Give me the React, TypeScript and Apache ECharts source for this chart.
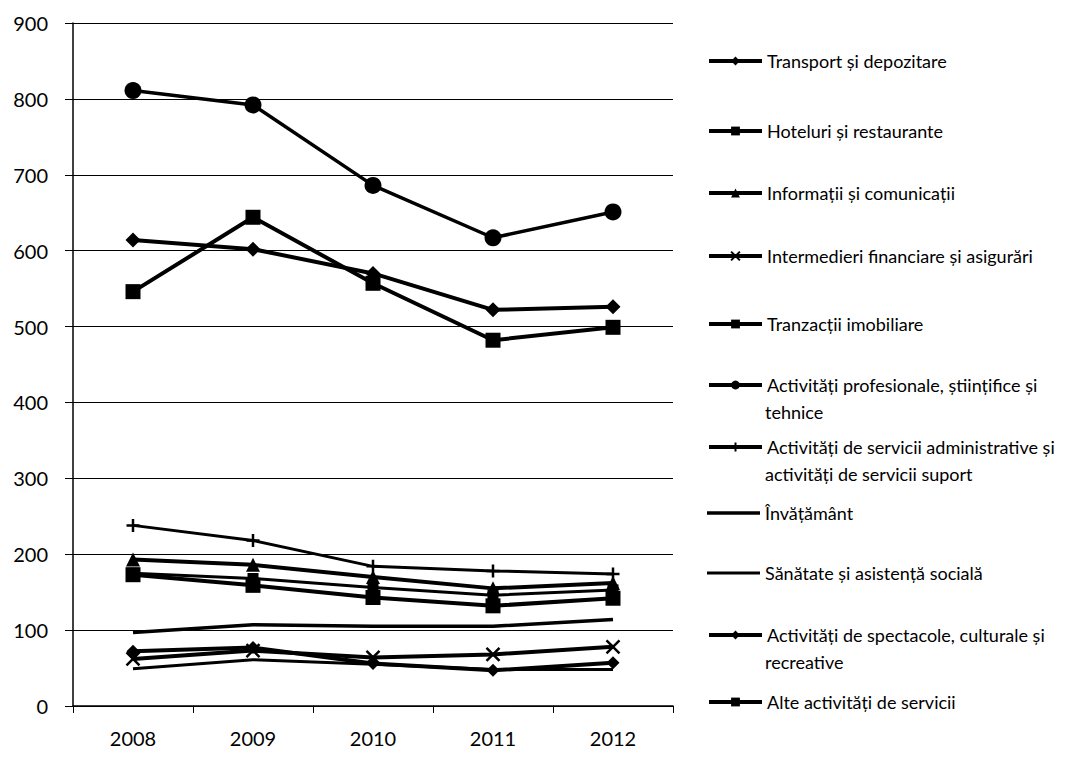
import React, { useEffect, useRef } from "react";
import * as echarts from "echarts";

const years = ["2008", "2009", "2010", "2011", "2012"];
const yTicks = [0, 100, 200, 300, 400, 500, 600, 700, 800, 900];

const transport = [614, 602, 570, 522, 526];
const hoteluri = [546, 644, 557, 482, 499];
const informatii = [193, 186, 170, 155, 162];
const intermedieri = [62, 73, 64, 68, 78];
const tranzactii = [175, 168, 156, 146, 153];
const profesionale = [811, 792, 686, 617, 651];
const administrative = [238, 218, 184, 178, 174];
const invatamant = [97, 107, 105, 105, 114];
const sanatate = [49, 61, 55, 48, 48];
const spectacole = [72, 77, 56, 47, 57];
const alte = [173, 159, 143, 132, 142];

const names = [
  "Transport și depozitare",
  "Hoteluri și restaurante",
  "Informații și comunicații",
  "Intermedieri financiare și asigurări",
  "Tranzacții imobiliare",
  "Activități profesionale, științifice și tehnice",
  "Activități de servicii administrative și activități de servicii suport",
  "Învățământ",
  "Sănătate și asistență socială",
  "Activități de spectacole, culturale și recreative",
  "Alte activități de servicii",
];

// legend text lines (first line, optional second line)
const legendLines = [
  ["Transport și depozitare"],
  ["Hoteluri și restaurante"],
  ["Informații și comunicații"],
  ["Intermedieri financiare și asigurări"],
  ["Tranzacții imobiliare"],
  ["Activități profesionale, științifice și", "tehnice"],
  ["Activități de servicii administrative și", "activități de servicii suport"],
  ["Învățământ"],
  ["Sănătate și asistență socială"],
  ["Activități de spectacole, culturale și", "recreative"],
  ["Alte activități de servicii"],
];

const seriesData = [
  transport,
  hoteluri,
  informatii,
  intermedieri,
  tranzactii,
  profesionale,
  administrative,
  invatamant,
  sanatate,
  spectacole,
  alte,
];

const X_PATH = "path://M0,0L10,10M10,0L0,10";
const PLUS_PATH = "path://M5,0L5,10M0,5L10,5";

const symbols: any[] = [
  { symbol: "diamond", size: 15, width: 4 },
  { symbol: "rect", size: 15, width: 4 },
  { symbol: "triangle", size: 14, width: 4 },
  { symbol: X_PATH, size: 13, width: 4, stroke: true },
  { symbol: "rect", size: 11, width: 3 },
  { symbol: "circle", size: 17, width: 3.5 },
  { symbol: PLUS_PATH, size: 13, width: 3, stroke: true },
  { symbol: "none", size: 0, width: 3.5 },
  { symbol: "none", size: 0, width: 3 },
  { symbol: "diamond", size: 13, width: 4 },
  { symbol: "rect", size: 15, width: 4 },
];

// vertical centre of each legend entry's first line
const legendCenters = [61, 131, 193, 256, 324, 385, 447, 513, 573, 635, 702];

export default function App() {
  const ref = useRef<HTMLDivElement>(null);
  useEffect(() => {
    if (!ref.current) return;
    const chart = echarts.init(ref.current, null, { renderer: "svg" });
    const font = "Lato, 'Open Sans', sans-serif";
    const LH = 20;
    const legendLeft = 707;
    const iconW = 53;
    const textX = legendLeft + iconW + 5;
    const option: any = {
      animation: false,
      backgroundColor: "#fff",
      grid: { left: 73, right: 401, top: 23, bottom: 55 },
      xAxis: {
        type: "category",
        data: years,
        boundaryGap: true,
        axisLine: { lineStyle: { color: "#000", width: 1.5 } },
        axisTick: { show: true, length: 7, lineStyle: { color: "#000" } },
        axisLabel: { color: "#000", fontSize: 20, fontFamily: font, margin: 22 },
      },
      yAxis: {
        type: "value",
        min: 0,
        max: 900,
        interval: 100,
        axisLine: { show: true, lineStyle: { color: "#000", width: 1.5 } },
        axisTick: { show: true, length: 8, lineStyle: { color: "#000" } },
        axisLabel: {
          color: "#000",
          fontSize: 20,
          fontFamily: font,
          margin: 25,
          formatter: (v: number) => (yTicks.includes(v) ? String(v) : ""),
        },
        splitLine: { show: true, lineStyle: { color: "#000", width: 1.2 } },
      },
      legend: names.map((n, i) => {
        const s = symbols[i];
        const noSym = s.symbol === "none";
        const lg: any = {
          data: noSym ? [{ name: n, icon: "rect" }] : [n],
          left: legendLeft,
          top: legendCenters[i] - LH / 2,
          padding: 0,
          orient: "vertical",
          itemWidth: iconW,
          itemHeight: noSym ? s.width : 11,
          itemGap: 0,
          lineStyle: { width: 4, color: "#000" },
          formatter: () => legendLines[i][0],
          textStyle: { color: "#000", fontSize: 18, fontFamily: font, lineHeight: LH },
          selectedMode: false,
        };
        if (noSym) lg.itemStyle = { color: "#000", borderWidth: 0 };
        else if (s.stroke) lg.itemStyle = { color: "#000", borderColor: "#000", borderWidth: 2 };
        return lg;
      }),
      graphic: legendLines
        .map((lines, i) =>
          lines.length > 1
            ? {
                type: "text",
                x: textX,
                y: legendCenters[i] + 27,
                style: {
                  text: lines[1],
                  fill: "#000",
                  font: `18px ${font}`,
                  verticalAlign: "middle",
                },
              }
            : null
        )
        .filter(Boolean),
      series: names.map((n, i) => {
        const s = symbols[i];
        return {
          name: n,
          type: "line",
          data: seriesData[i],
          symbol: s.symbol,
          symbolSize: s.size,
          showSymbol: s.symbol !== "none",
          lineStyle: { color: "#000", width: s.width },
          itemStyle: s.stroke
            ? { color: "#000", borderColor: "#000", borderWidth: 2.5 }
            : { color: "#000", borderColor: "#000", borderWidth: 0 },
          emphasis: { disabled: true },
          z: 3,
        };
      }),
    };
    chart.setOption(option);
    return () => chart.dispose();
  }, []);
  return <div ref={ref} style={{ width: 1074, height: 761, position: "absolute", left: 0, top: 0 }} />;
}
